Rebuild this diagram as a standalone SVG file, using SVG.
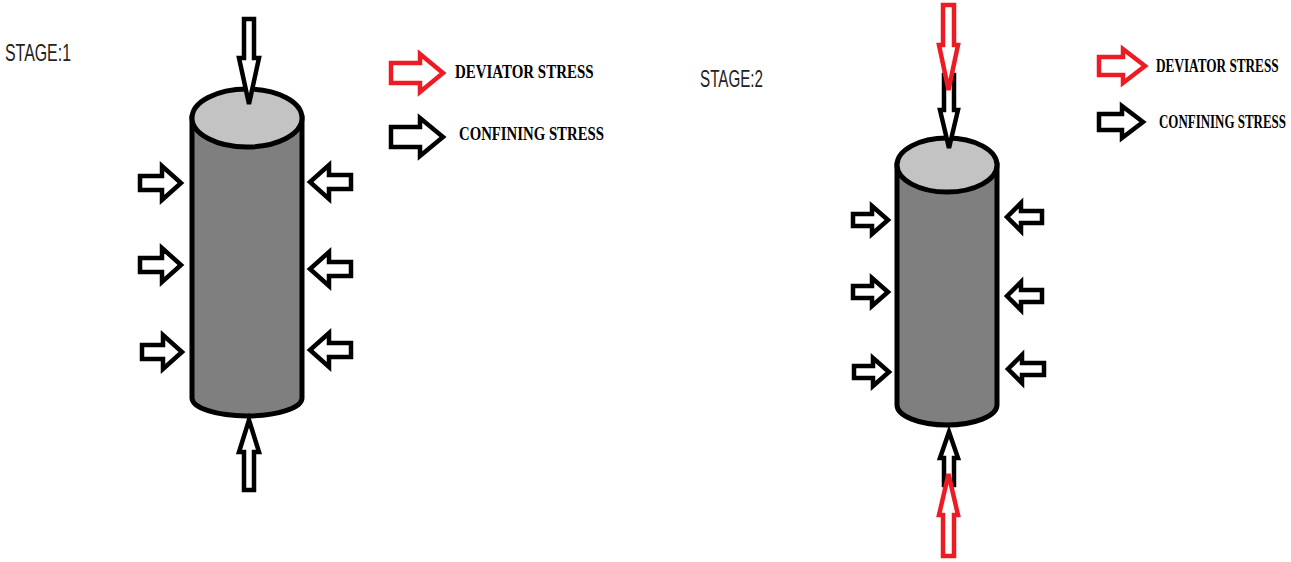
<svg xmlns="http://www.w3.org/2000/svg" width="1291" height="562" viewBox="0 0 1291 562">
  <style>
    .body { fill: #7f7f7f; stroke: #000; stroke-width: 5; }
    .cap { fill: #c3c3c3; stroke: #000; stroke-width: 5; }
    .conf { fill: #fff; stroke: #000; stroke-width: 4.5; stroke-linejoin: miter; }
    .dev { fill: #fff; stroke: #ed1c24; stroke-width: 4.5; stroke-linejoin: miter; }
    .stage { font-family: "Liberation Sans Narrow", "Liberation Sans", sans-serif; font-size: 24px; fill: #222; }
    .legend { font-family: "Liberation Serif", serif; font-weight: bold; font-size: 19px; fill: #000; }
  </style>
  <rect width="1291" height="562" fill="#fff"/>

  <!-- Stage 1 -->
  <g id="stage1-label">
    <text class="stage" x="5" y="61" textLength="66" lengthAdjust="spacingAndGlyphs">STAGE:1</text>
  </g>
  <g id="sample1">
    <path class="body" d="M192,118 L192,398 A55,18 0 0 0 302,398 L302,118 Z"/>
    <ellipse class="cap" cx="247" cy="118" rx="55" ry="29"/>
  </g>
  <g id="connectors1">
    <!-- axial load -->
    <polygon class="conf" points="244,19 254,19 254,58 259,58 249,104 239,58 244,58"/>
    <polygon class="conf" points="244,490 254,490 254,452 259,452 249,420 239,452 244,452"/>
    <!-- confining pressure, left side -->
    <polygon class="conf" points="140,176 162,176 162,166 181,183 162,200 162,190 140,190"/>
    <polygon class="conf" points="140,258 162,258 162,248 181,265 162,282 162,272 140,272"/>
    <polygon class="conf" points="142,345 163,345 163,335 182,352 163,369 163,359 142,359"/>
    <!-- confining pressure, right side -->
    <polygon class="conf" points="351,175 329,175 329,165 310,182 329,199 329,189 351,189"/>
    <polygon class="conf" points="351,262 329,262 329,252 310,269 329,286 329,276 351,276"/>
    <polygon class="conf" points="351,343 329,343 329,333 310,350 329,367 329,357 351,357"/>
  </g>
  <g id="legend1">
    <polygon class="dev" points="391,63 420,63 420,54 443,73 420,92 420,83 391,83"/>
    <text class="legend" transform="translate(455,78) scale(0.787,1)">DEVIATOR STRESS</text>
    <polygon class="conf" points="391,127 420,127 420,118 443,137 420,156 420,147 391,147"/>
    <text class="legend" transform="translate(459,140) scale(0.778,1)">CONFINING STRESS</text>
  </g>

  <!-- Stage 2 -->
  <g id="stage2-label">
    <text class="stage" x="700" y="87" textLength="63" lengthAdjust="spacingAndGlyphs">STAGE:2</text>
  </g>
  <g id="sample2">
    <path class="body" d="M897,165 L897,405 A50,20 0 0 0 997,405 L997,165 Z"/>
    <ellipse class="cap" cx="947" cy="165" rx="50" ry="27"/>
  </g>
  <g id="connectors2">
    <!-- axial load: confining part then deviator part -->
    <polygon class="conf" points="944,75 954,75 954,110 958,110 949,148 940,110 944,110"/>
    <polygon class="dev" points="943,5 954,5 954,45 958,45 948.5,90 939,45 943,45"/>
    <polygon class="conf" points="944,485 954,485 954,458 958,458 949,432 940,458 944,458"/>
    <polygon class="dev" points="943,556 954,556 954,515 958,515 948.5,474 939,515 943,515"/>
    <!-- confining pressure, left side -->
    <polygon class="conf" points="853,214 872,214 872,206 888,220 872,234 872,226 853,226"/>
    <polygon class="conf" points="853,286 872,286 872,278 888,292 872,306 872,298 853,298"/>
    <polygon class="conf" points="854,366 873,366 873,358 889,372 873,386 873,378 854,378"/>
    <!-- confining pressure, right side -->
    <polygon class="conf" points="1042,211 1021,211 1021,203 1007,217 1021,231 1021,223 1042,223"/>
    <polygon class="conf" points="1042,290 1021,290 1021,282 1007,296 1021,310 1021,302 1042,302"/>
    <polygon class="conf" points="1044,363 1022,363 1022,355 1008,369 1022,383 1022,375 1044,375"/>
  </g>
  <g id="legend2">
    <polygon class="dev" points="1099,57 1123,57 1123,49 1145,66 1123,83 1123,75 1099,75"/>
    <text class="legend" transform="translate(1156,72) scale(0.697,1)">DEVIATOR STRESS</text>
    <polygon class="conf" points="1099,114 1122,114 1122,106 1143,122 1122,138 1122,130 1099,130"/>
    <text class="legend" transform="translate(1159,128) scale(0.682,1)">CONFINING STRESS</text>
  </g>
</svg>
